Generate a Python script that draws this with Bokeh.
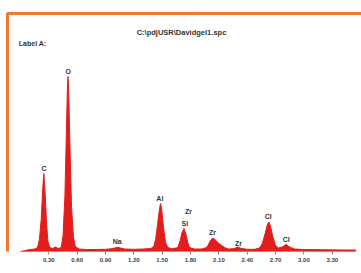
from bokeh.plotting import figure
from bokeh.models import Range1d, FixedTicker, BoxAnnotation, ColumnDataSource
from bokeh.core.properties import value
from bokeh.embed import file_html
from bokeh.resources import INLINE

# --- data (energy in keV, counts in arbitrary units) ---
energy = [0.00, 0.05, 0.10, 0.15, 0.18, 0.20, 0.22, 0.235, 0.247, 0.26, 0.275, 0.29, 0.31,
          0.34, 0.37, 0.40, 0.43, 0.45, 0.47, 0.485, 0.497, 0.503, 0.51, 0.525, 0.54, 0.56,
          0.58, 0.62, 0.70, 0.80, 0.90, 0.97, 1.00, 1.03, 1.06, 1.10, 1.20, 1.30, 1.38,
          1.41, 1.43, 1.45, 1.47, 1.482, 1.495, 1.515, 1.535, 1.56, 1.60, 1.65,
          1.67, 1.69, 1.71, 1.731, 1.75, 1.77, 1.79, 1.84, 1.92, 1.97,
          1.99, 2.01, 2.038, 2.07, 2.10, 2.13, 2.16, 2.20, 2.26, 2.30, 2.34, 2.40, 2.48,
          2.53, 2.56, 2.59, 2.61, 2.628, 2.645, 2.67, 2.70, 2.73, 2.77, 2.81, 2.85, 2.90,
          3.00, 3.20, 3.40, 3.55]
counts = [0, 10, 20, 25, 40, 120, 330, 620, 780, 600, 300, 100, 40,
          30, 45, 30, 40, 150, 550, 1150, 1650, 1750, 1600, 1000, 450, 150,
          50, 25, 20, 20, 22, 28, 35, 42, 35, 25, 22, 25, 30,
          50, 120, 260, 420, 480, 420, 230, 90, 40, 28, 35,
          50, 110, 190, 230, 180, 90, 40, 25, 25, 40,
          70, 110, 135, 110, 80, 60, 40, 25, 28, 45, 30, 22, 22,
          35, 80, 180, 260, 295, 260, 150, 60, 35, 45, 70, 45, 25,
          20, 18, 15, 15]

peak_names = ["C", "O", "Na", "Al", "Zr", "Si", "Zr", "Zr", "Cl", "Cl"]
peak_energy = [0.250, 0.505, 1.024, 1.475, 1.778, 1.739, 2.032, 2.308, 2.622, 2.812]
peak_label_counts = [780, 1750, 42, 480, 345, 230, 135, 25, 295, 70]

tick_labels = ["0.30", "0.60", "0.90", "1.20", "1.50", "1.80", "2.10",
               "2.40", "2.70", "3.00", "3.30"]

title_text = "C:\\pdjUSR\\Davidgel1.spc"
label_text = "Label A:"

RED = "#e31c1c"
ORANGE = "#f07a2b"
FONT = "Liberation Sans"

PX = 94.47  # pixels per keV
x0 = -20 / PX
x1 = x0 + 361 / PX
y0, y1 = 0, 2510

p = figure(width=361, height=273, output_backend="svg", toolbar_location=None,
           x_range=Range1d(x0, x1), y_range=Range1d(y0, y1),
           min_border_left=0, min_border_right=0, min_border_top=0, min_border_bottom=22)
p.yaxis.visible = False
p.grid.visible = False
p.outline_line_color = None
p.background_fill_color = "white"
p.border_fill_color = "white"

# orange border (left and top sides visible)
p.add_layout(BoxAnnotation(left=x0 + 7 / PX, right=x1 + 1.0, top=2380, bottom=-800,
                           fill_color=None, fill_alpha=0, line_color=ORANGE, line_width=3,
                           line_alpha=1.0))

# spectrum
src = ColumnDataSource(dict(e=energy, c=counts))
p.varea(x="e", y1=0, y2="c", source=src, fill_color=RED)
p.line(x="e", y="c", source=src, line_color=RED, line_width=1)

# peak labels
lsrc = ColumnDataSource(dict(x=peak_energy, y=peak_label_counts, t=peak_names))
p.text(x="x", y="y", text="t", source=lsrc, text_align="center", text_baseline="bottom",
       y_offset=-2, text_font=value(FONT), text_font_style="bold",
       text_font_size="7px", text_color="#333333")

# header texts
p.text(x=[x0 + 181 / PX], y=[2190], text=[title_text], text_align="center",
       text_baseline="middle", text_font=value(FONT), text_font_style="bold",
       text_font_size="7.5px", text_color="#333333")
p.text(x=[-0.018], y=[2080], text=[label_text], text_align="left", text_baseline="middle",
       text_font=value(FONT), text_font_style="bold", text_font_size="7px",
       text_color="#333333")

# x axis
ax = p.xaxis[0]
ax.ticker = FixedTicker(ticks=[float(t) for t in tick_labels])
ax.major_label_overrides = {float(t): t for t in tick_labels}
ax.bounds = (0, x1 - 6 / PX)
ax.axis_line_color = "#999999"
ax.axis_line_width = 1
ax.major_tick_in = 0
ax.major_tick_out = 3
ax.major_tick_line_color = "#888888"
ax.minor_tick_line_color = None
ax.major_label_standoff = 3
ax.major_label_text_font = FONT
ax.major_label_text_font_style = "bold"
ax.major_label_text_font_size = "6px"
ax.major_label_text_color = "#444444"

open("out.html", "w").write(file_html(p, INLINE))
